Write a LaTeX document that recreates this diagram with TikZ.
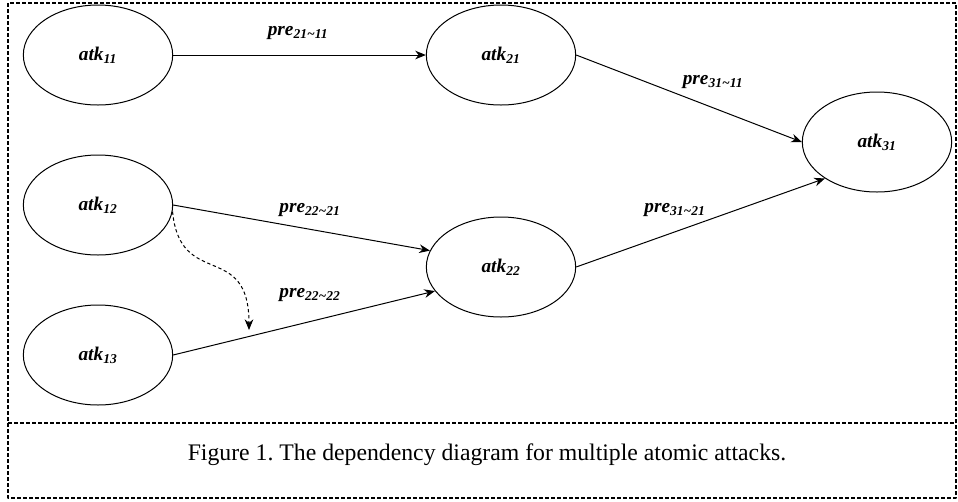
\documentclass[tikz,border=0pt]{standalone}
\usepackage{fontspec}
\setmainfont{Liberation Serif}
\usetikzlibrary{shapes.geometric,arrows.meta}
\tikzset{
  atk/.style={ellipse,draw,line width=0.75pt,minimum width=112pt,minimum height=75pt,
    font=\fontsize{14.5}{17}\selectfont\bfseries\itshape},
  pre/.style={font=\fontsize{14.5}{17}\selectfont\bfseries\itshape},
  dep/.style={line width=0.75pt,-{Stealth[length=8pt,width=6.5pt]}},
  frame/.style={line width=1pt,dash pattern=on 3pt off 1.5pt}
}
\newcommand{\atkname}[1]{atk\textsubscript{#1}}
\newcommand{\prename}[2]{pre\textsubscript{#1\textasciitilde#2}}
\frenchspacing
\begin{document}
\begin{tikzpicture}[x=0.75pt,y=-0.75pt,line join=round]
  \useasboundingbox (0,0) rectangle (958,501);
  \draw [frame] (8,3) rectangle (956,498);
  \draw [frame] (8,423) -- (956,423);

  \node [atk] (a11) at (98,55) {\atkname{11}};
  \node [atk] (a12) at (98,205) {\atkname{12}};
  \node [atk] (a13) at (98,355) {\atkname{13}};
  \node [atk] (a21) at (501,55) {\atkname{21}};
  \node [atk] (a22) at (501,267) {\atkname{22}};
  \node [atk] (a31) at (877,142) {\atkname{31}};

  \draw [dep] (a11) -- (a21);
  \draw [dep] (a21.east) -- (a31.west);
  \draw [dep] (a22.east) -- (a31.215);
  \draw [dep] (a12.east) -- (a22.167);
  \draw [dep] (a13.east) -- (a22.200);

  \coordinate (dtip) at (249,330);
  \draw [dep,dash pattern=on 2.5pt off 2pt] (a12.-5) .. controls (180,290) and (249,240) .. (dtip);

  \node [pre] (p2111) at (298,33) {\prename{21}{11}};
  \node [pre] (p3111) at (713,82) {\prename{31}{11}};
  \node [pre] (p3121) at (675,210) {\prename{31}{21}};
  \node [pre] (p2221) at (310,210) {\prename{22}{21}};
  \node [pre] (p2222) at (310,295) {\prename{22}{22}};

  \node [font=\fontsize{17.8}{21}\selectfont] (caption) at (487,455)
    {Figure 1. The dependency diagram for multiple atomic attacks.};
\end{tikzpicture}
\end{document}
